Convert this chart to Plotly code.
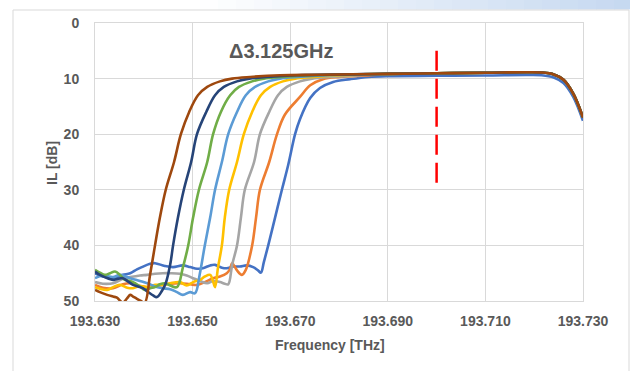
import plotly.graph_objects as go

# ---------------- data ----------------
series_names = ["S1", "S2", "S3", "S4", "S5", "S6", "S7", "S8"]
series_colors = ["#4472C4", "#ED7D31", "#A5A5A5", "#FFC000",
                 "#5B9BD5", "#70AD47", "#264478", "#9E480E"]

tail_x = [193.6900, 193.7000, 193.7100, 193.7185, 193.7215, 193.7240, 193.7260, 193.7280, 193.7300]
tail_y = [9.15, 9.05, 8.95, 8.85, 8.90, 9.25, 10.2, 12.7, 17.0]
tail_y_s1 = [9.55, 9.50, 9.45, 9.35, 9.40, 9.80, 10.8, 13.3, 17.6]

s1_x = [193.6300, 193.6316, 193.6337, 193.6357, 193.6372, 193.6386, 193.6396, 193.6413, 193.6423,
        193.6443, 193.6460, 193.6480, 193.6495, 193.6509, 193.6521, 193.6536, 193.6546, 193.6560,
        193.6570, 193.6583, 193.6597, 193.6611, 193.6624, 193.6634, 193.6640, 193.6646, 193.6655,
        193.6669, 193.6683, 193.6696, 193.6710, 193.6720, 193.6741, 193.6761, 193.6788, 193.6823,
        193.6860]
s1_y = [45.0, 45.6, 45.9, 45.3, 45.0, 44.3, 43.9, 43.3, 43.2,
        43.7, 43.9, 43.6, 43.9, 44.2, 44.1, 43.6, 43.5, 44.0,
        44.1, 43.8, 43.8, 43.6, 43.9, 44.5, 44.9, 43.0, 40.0,
        35.0, 30.0, 25.5, 20.0, 17.3, 13.5, 11.7, 10.6, 10.1,
        9.7]

s2_x = [193.6300, 193.6316, 193.6337, 193.6357, 193.6372, 193.6392, 193.6407, 193.6423, 193.6439,
        193.6454, 193.6474, 193.6495, 193.6509, 193.6525, 193.6542, 193.6556, 193.6570, 193.6577,
        193.6581, 193.6591, 193.6601, 193.6609, 193.6622, 193.6630, 193.6638, 193.6657, 193.6673,
        193.6689, 193.6720, 193.6741, 193.6767, 193.6802, 193.6864]
s2_y = [47.1, 47.6, 47.7, 47.0, 46.8, 47.3, 47.5, 47.3, 47.1,
        46.9, 46.8, 47.0, 47.1, 46.6, 45.9, 45.6, 45.0, 44.2,
        43.2, 44.5, 45.3, 44.4, 40.0, 35.0, 30.0, 25.0, 20.0,
        16.5, 13.3, 11.2, 10.1, 9.7, 9.4]

s3_x = [193.6300, 193.6316, 193.6337, 193.6357, 193.6372, 193.6392, 193.6407, 193.6423, 193.6439,
        193.6454, 193.6474, 193.6488, 193.6501, 193.6515, 193.6530, 193.6542, 193.6556, 193.6566,
        193.6573, 193.6581, 193.6591, 193.6599, 193.6607, 193.6626, 193.6638, 193.6657, 193.6675,
        193.6693, 193.6720, 193.6745, 193.6782, 193.6843]
s3_y = [46.6, 46.9, 46.8, 46.0, 45.7, 45.4, 45.3, 45.1, 45.0,
        45.0, 45.1, 45.4, 45.9, 46.4, 46.8, 46.4, 46.6, 46.9,
        47.0, 43.5, 40.0, 35.0, 30.0, 25.0, 20.0, 16.0, 13.0,
        11.5, 10.5, 10.0, 9.7, 9.4]

s4_x = [193.6300, 193.6310, 193.6325, 193.6337, 193.6351, 193.6366, 193.6378, 193.6392, 193.6407,
        193.6423, 193.6439, 193.6454, 193.6474, 193.6488, 193.6501, 193.6515, 193.6525, 193.6536,
        193.6542, 193.6546, 193.6552, 193.6560, 193.6566, 193.6575, 193.6591, 193.6605, 193.6622,
        193.6640, 193.6659, 193.6685, 193.6710, 193.6747, 193.6808]
s4_y = [47.5, 47.8, 48.0, 47.5, 47.1, 47.6, 47.7, 47.3, 47.5,
        47.1, 47.1, 46.8, 46.6, 47.2, 46.6, 46.2, 45.6, 45.3,
        46.5, 47.5, 44.0, 40.0, 35.0, 30.0, 25.0, 20.0, 16.0,
        13.0, 11.5, 10.5, 10.0, 9.7, 9.4]

s5_x = [193.6300, 193.6316, 193.6337, 193.6351, 193.6372, 193.6392, 193.6407, 193.6423, 193.6439,
        193.6454, 193.6468, 193.6480, 193.6495, 193.6505, 193.6515, 193.6525, 193.6536, 193.6546,
        193.6560, 193.6573, 193.6591, 193.6609, 193.6628, 193.6655, 193.6679, 193.6716, 193.6777]
s5_y = [45.9, 45.4, 45.7, 45.3, 45.9, 46.4, 46.8, 47.4, 47.7,
        47.9, 48.4, 48.9, 48.4, 48.6, 45.0, 40.0, 35.0, 30.0,
        25.0, 20.0, 16.0, 13.0, 11.5, 10.5, 10.0, 9.7, 9.4]

s6_x = [193.6300, 193.6310, 193.6320, 193.6331, 193.6341, 193.6351, 193.6361, 193.6372, 193.6382,
        193.6392, 193.6402, 193.6413, 193.6423, 193.6433, 193.6443, 193.6454, 193.6468, 193.6480,
        193.6491, 193.6501, 193.6513, 193.6530, 193.6542, 193.6558, 193.6577, 193.6595, 193.6622,
        193.6646, 193.6683, 193.6745]
s6_y = [44.4, 44.9, 45.3, 45.0, 44.7, 45.3, 46.2, 46.4, 46.8,
        47.4, 48.0, 47.7, 47.5, 47.0, 46.8, 47.2, 47.5, 44.0,
        40.0, 35.0, 30.0, 25.0, 20.0, 16.0, 13.0, 11.5, 10.5,
        10.0, 9.7, 9.4]

s7_x = [193.6300, 193.6310, 193.6320, 193.6337, 193.6347, 193.6357, 193.6368, 193.6378, 193.6388,
        193.6398, 193.6409, 193.6419, 193.6427, 193.6437, 193.6445, 193.6454, 193.6460, 193.6470,
        193.6482, 193.6497, 193.6509, 193.6528, 193.6546, 193.6564, 193.6591, 193.6616, 193.6652,
        193.6714]
s7_y = [44.7, 45.3, 45.7, 46.2, 46.0, 45.9, 46.5, 47.1, 47.4,
        47.7, 48.4, 49.0, 49.3, 48.2, 46.8, 43.5, 40.0, 35.0,
        30.0, 25.0, 20.0, 16.0, 13.0, 11.5, 10.5, 10.0, 9.7,
        9.4]

s8_x = [193.6300, 193.6310, 193.6325, 193.6337, 193.6345, 193.6351, 193.6357, 193.6366, 193.6372,
        193.6378, 193.6386, 193.6394, 193.6402, 193.6413, 193.6423, 193.6433, 193.6445, 193.6462,
        193.6476, 193.6493, 193.6511, 193.6530, 193.6556, 193.6581, 193.6618, 193.6679, 193.6761]
s8_y = [48.0, 48.4, 48.9, 49.2, 49.4, 49.9, 50.3, 49.5, 48.9,
        49.2, 49.6, 50.0, 50.3, 45.2, 40.0, 35.0, 30.0, 25.0,
        20.0, 16.0, 13.0, 11.5, 10.5, 10.0, 9.7, 9.4, 9.3]

marker_x = [193.700, 193.700]
marker_y = [5.0, 29.0]

x_ticks = [193.630, 193.650, 193.670, 193.690, 193.710, 193.730]
y_ticks = [0, 10, 20, 30, 40, 50]
x_title = "Frequency [THz]"
y_title = "IL [dB]"
note_text = "Δ3.125GHz"

# ---------------- figure ----------------
W, H = 630, 371
L, R, T, B = 95, 583, 23, 301  # plot area in pixels


def px(x):
    return (x - L) / (R - L)


def py(y):
    return (B - y) / (B - T)


FONT = "Liberation Sans"
GREY = "#595959"

fig = go.Figure()

all_x = [s1_x, s2_x, s3_x, s4_x, s5_x, s6_x, s7_x, s8_x]
all_y = [s1_y, s2_y, s3_y, s4_y, s5_y, s6_y, s7_y, s8_y]
for i, (xs, ys) in enumerate(zip(all_x, all_y)):
    ty = tail_y_s1 if i == 0 else tail_y
    fig.add_trace(go.Scatter(
        x=xs + tail_x, y=ys + ty, mode="lines", name=series_names[i],
        line=dict(color=series_colors[i], width=2.6, shape="spline", smoothing=1.0),
        hoverinfo="skip"))

fig.add_trace(go.Scatter(
    x=marker_x, y=marker_y, mode="lines",
    line=dict(color="#FF0000", width=2.5, dash="20px,8px"), hoverinfo="skip"))

axis_common = dict(showgrid=True, gridcolor="#D9D9D9", gridwidth=1, zeroline=False,
                   showline=True, linecolor="#D9D9D9", linewidth=1, mirror=True,
                   ticks="", tickfont=dict(family=FONT, size=14, color=GREY, weight="bold"))

fig.update_xaxes(range=[193.630, 193.730], tickvals=x_ticks, tickformat=".3f",
                 ticklabelstandoff=7, **axis_common)
fig.update_yaxes(range=[50, 0], tickvals=y_ticks, ticklabelstandoff=12, **axis_common)

shapes = []
# slide background gradient strip at top
n = 24
x_start, x_end = 200, 632
for k in range(n):
    t = (k + 0.5) / n
    r = int(round(255 + (197 - 255) * t))
    g = int(round(255 + (216 - 255) * t))
    b = int(round(255 + (240 - 255) * t))
    x0 = x_start + (x_end - x_start) * k / n
    x1 = x_start + (x_end - x_start) * (k + 1) / n + 0.5
    shapes.append(dict(type="rect", xref="paper", yref="paper",
                       x0=px(x0), x1=px(x1), y0=py(9.5), y1=py(-1),
                       line=dict(width=0), fillcolor=f"rgb({r},{g},{b})", layer="below"))
# chart frame
shapes.append(dict(type="rect", xref="paper", yref="paper",
                   x0=px(13), x1=px(629), y0=py(380), y1=py(10),
                   line=dict(color="#D9D9D9", width=1), fillcolor="rgba(0,0,0,0)", layer="below"))

annotations = [
    dict(text=f"<b>{note_text}</b>", xref="paper", yref="paper", x=px(281), y=py(51),
         showarrow=False, font=dict(family=FONT, size=20, color=GREY),
         xanchor="center", yanchor="middle"),
    dict(text=f"<b>{x_title}</b>", xref="paper", yref="paper", x=px(329.5), y=py(345),
         showarrow=False, font=dict(family=FONT, size=14, color=GREY),
         xanchor="center", yanchor="middle"),
    dict(text=f"<b>{y_title}</b>", xref="paper", yref="paper", x=px(52), y=py(163),
         showarrow=False, textangle=-90, font=dict(family=FONT, size=14, color=GREY),
         xanchor="center", yanchor="middle"),
]

fig.update_layout(width=W, height=H, margin=dict(l=L, r=W - R, t=T, b=H - B),
                  paper_bgcolor="white", plot_bgcolor="white", showlegend=False,
                  shapes=shapes, annotations=annotations,
                  font=dict(family=FONT, color=GREY))

fig.write_html("out.html")
